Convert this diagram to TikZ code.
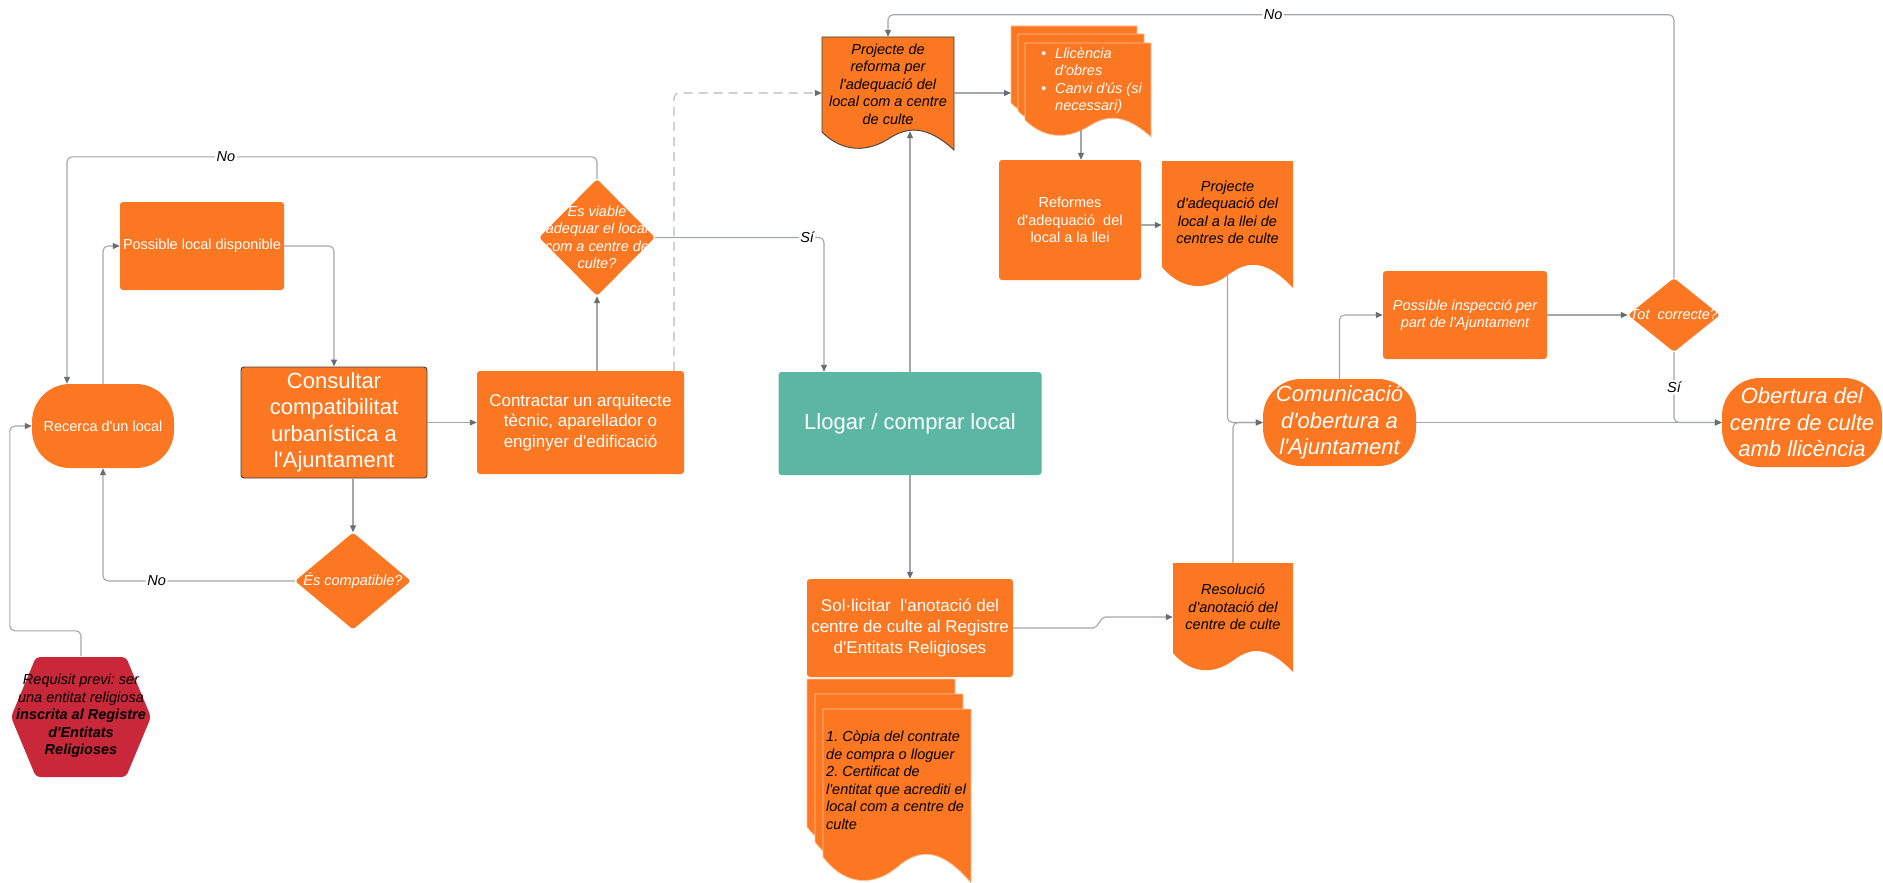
\documentclass[tikz,border=0pt]{standalone}
\usepackage{fontspec}
\setmainfont{Liberation Sans}[Ligatures=TeXOff]
\usetikzlibrary{shapes.geometric,arrows.meta}

\definecolor{lorange}{HTML}{FC7721}
\definecolor{lteal}{HTML}{5BB7A4}
\definecolor{lred}{HTML}{C8283A}
\definecolor{lline}{HTML}{A3A6AB}
\definecolor{ltip}{HTML}{6A6E74}

\newcommand{\smallf}{\fontsize{14.5}{17.5}\selectfont}
\newcommand{\midf}{\fontsize{17}{20.6}\selectfont}
\newcommand{\bigf}{\fontsize{22}{26.5}\selectfont}

% document shape: [options] x0, top, x1, bottom left, wave depth
\newcommand{\docu}[6][]{%
  \path[fill=lorange,#1] ({#2},{#3}) -- ({#4},{#3}) -- ({#4},{(#5)+(#6)})
    .. controls ({(#2)+0.8*((#4)-(#2))},{(#5)-0.35*(#6)}) and ({(#2)+0.65*((#4)-(#2))},{(#5)-0.35*(#6)}) .. ({(#2)+0.5*((#4)-(#2))},{(#5)+0.4*(#6)})
    .. controls ({(#2)+0.3*((#4)-(#2))},{(#5)+1.3*(#6)}) and ({(#2)+0.12*((#4)-(#2))},{(#5)+0.9*(#6)}) .. ({#2},{#5}) -- cycle;}

\tikzset{
  box/.style={rectangle, rounded corners=3pt, fill=lorange, text=white, align=center, inner sep=2pt, font=\smallf},
  term/.style={box, rounded corners=38pt},
  dec/.style={diamond, fill=lorange, inner sep=0pt, rounded corners=3pt},
  wtxt/.style={text=white, align=center, font=\smallf\itshape},
  btxt/.style={text=black, align=center, font=\smallf\itshape},
  conn/.style={draw=lline, line width=1.1pt, rounded corners=5pt, -{Triangle[length=7pt,width=6pt,color=ltip]}},
  lbl/.style={fill=white, inner sep=1.5pt, font=\smallf\itshape, text=black},
}

\begin{document}
\frenchspacing
\begin{tikzpicture}[x=1pt,y=-1pt]
\useasboundingbox (0,0) rectangle (1883,883);

% shapes behind the texts
\fill[lred, rounded corners=4pt] (11,717) -- (36,657) -- (126,657) -- (151,717) -- (126,777) -- (36,777) -- cycle;
\docu[draw=black!75, line width=0.9pt]{822}{37}{954}{132}{18}
\foreach \dx/\dy in {0/0,7/8,14/17}
  \docu[draw=white!55!lorange, line width=0.8pt]{1011+\dx}{26+\dy}{1137+\dx}{103+\dy}{17};
\docu{1162}{161}{1293}{267}{21}
\docu{1173}{563}{1293}{653}{19}
\foreach \dx/\dy in {0/0,8/15,16/30}
  \docu[draw=white!55!lorange, line width=0.8pt]{807+\dx}{679+\dy}{955+\dx}{827+\dy}{26};

% nodes
\node[term, minimum width=142pt, minimum height=84pt] (rec) at (103,426) {Recerca d'un local};
\node[box, minimum width=164pt, minimum height=88pt] (pld) at (202,246) {Possible local disponible};
\node[box, draw=black!75, line width=0.9pt, font=\bigf, minimum width=186pt, minimum height=111pt] (cons) at (334,422.5) {Consultar\\compatibilitat\\urbanística a\\l'Ajuntament};
\node[box, font=\midf, minimum width=207pt, minimum height=103pt] (cont) at (580.5,422.5) {Contractar un arquitecte\\tècnic, aparellador o\\enginyer d'edificació};
\node[dec, minimum width=116pt, minimum height=117pt, label={[wtxt]center:Es viable\\adequar el local\\com a centre de\\culte?}] (viab) at (597,237.5) {};
\node[dec, minimum width=116pt, minimum height=97pt, label={[wtxt]center:És compatible?}] (comp) at (353,581) {};
\node[btxt, minimum width=140pt, minimum height=120pt] (req) at (81,716) {Requisit previ: ser\\una entitat religiosa\\\textbf{inscrita al Registre}\\\textbf{d'Entitats}\\\textbf{Religioses}};
\node[btxt, minimum width=132pt, minimum height=94pt] (prj) at (888,84) {Projecte de\\reforma per\\l'adequació del\\local com a centre\\de culte};
\node[wtxt, align=left, anchor=west, inner sep=0pt] (lic) at (1041,80.5) {\makebox[14pt][l]{•}Llicència\\\hspace*{14pt}d'obres\\\makebox[14pt][l]{•}Canvi d'ús (si\\\hspace*{14pt}necessari)};
\coordinate (licL) at (1011,93);
\coordinate (licB) at (1081,130);
\node[box, minimum width=142pt, minimum height=120pt] (ref) at (1070,220) {Reformes\\d'adequació\ \ del\\local a la llei};
\node[btxt, minimum width=131pt, minimum height=125pt] (pad) at (1227.5,212.5) {Projecte\\d'adequació del\\local a la llei de\\centres de culte};
\node[box, fill=lteal, font=\bigf, minimum width=263pt, minimum height=103pt] (llo) at (910,423.5) {Llogar / comprar local};
\node[box, font=\midf, minimum width=206pt, minimum height=98pt] (sol) at (910,628) {Sol·licitar\ \ l'anotació del\\centre de culte al Registre\\d'Entitats Religioses};
\node[btxt, align=left, anchor=west, inner sep=0pt] (cop) at (826,780) {1. Còpia del contrate\\de compra o lloguer\\2. Certificat de\\l'entitat que acrediti el\\local com a centre de\\culte};
\node[btxt, minimum width=120pt, minimum height=88pt] (res) at (1233,607) {Resolució\\d'anotació del\\centre de culte};
\node[term, font=\bigf\itshape, minimum width=153pt, minimum height=87pt] (com) at (1339.5,422.5) {Comunicació\\d'obertura a\\l'Ajuntament};
\node[box, font=\smallf\itshape, minimum width=164pt, minimum height=88pt] (ins) at (1465,315) {Possible inspecció per\\part de l'Ajuntament};
\node[dec, minimum width=92pt, minimum height=74pt, label={[wtxt]center:Tot\ \ correcte?}] (tot) at (1674,315) {};
\node[term, font=\bigf\itshape, minimum width=160pt, minimum height=89pt] (obe) at (1802,422.5) {Obertura del\\centre de culte\\amb llicència};

% connectors
\draw[conn] (req.north) -- ++(0,-25) -| ([xshift=-22pt]rec.west) -- (rec.west);
\draw[conn] (rec.north) |- (pld.west);
\draw[conn] (pld.east) -| (cons.north);
\draw[conn] (cons.east) -- (cont.west);
\draw[conn] (comp.north |- cons.south) -- (comp.north);
\draw[conn] (comp.west) -| node[lbl,pos=0.36]{No} (rec.south);
\draw[conn] (viab.south |- cont.north) -- (viab.south);
\draw[conn] (viab.north) -- ++(0,-22) -| node[lbl,pos=0.35]{No} ([xshift=-36pt]rec.north);
\draw[conn] (viab.east) -| node[lbl,pos=0.45]{Sí} ([xshift=-86pt]llo.north);
\draw[conn] (llo.north) -- (llo.north |- prj.south);
\draw[conn, draw=lline!80, dash pattern=on 9pt off 6pt] ([xshift=93.5pt]cont.north) |- ([yshift=-9pt]prj.west);
\draw[conn] ([yshift=-9pt]prj.east) -- (licL);
\draw[conn] (licB) -- (licB |- ref.north);
\draw[conn] ([yshift=-5pt]ref.east) -- ([yshift=-5pt]ref.east -| pad.west);
\draw[conn] (pad.south) |- (com.west);
\draw[conn] (res.north) |- (com.west);
\draw[conn] (llo.south) -- (sol.north);
\draw[conn] (sol.east) -- ++(75,0) to[out=0,in=180] ++(22,-11) -- ([yshift=-10pt]res.west);
\draw[conn] (com.north) |- (ins.west);
\draw[conn] (ins.east) -- (tot.west);
\draw[conn] (tot.south) |- node[lbl,pos=0.25]{Sí} (obe.west);
\draw[conn] (com.east) -- (obe.west);
\draw[conn] (tot.north) -- ++(0,-263) -| node[lbl,pos=0.255]{No} (prj.north);
\end{tikzpicture}
\end{document}
